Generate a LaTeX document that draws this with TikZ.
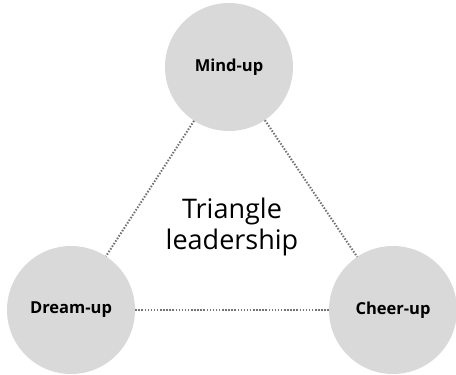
\documentclass[tikz,border=0pt]{standalone}
\usepackage{fontspec}
\setmainfont{Open Sans}
\usepackage{tikz}
\usetikzlibrary{positioning}
\tikzset{>=latex}

\begin{document}
\begin{tikzpicture}[x=1pt, y=-1pt]
    % page frame
    \useasboundingbox (0,0) rectangle (456,375);

    \tikzset{
        bubble/.style={circle, fill=black!15, minimum size=128pt, inner sep=0pt,
                       font=\bfseries\fontsize{16.5}{19}\selectfont},
        link/.style={black!55, line width=2pt, dash pattern=on 1.5pt off 1.6pt}
    }

    % 1. The three circles
    \node[bubble] (mind)  at (229,67)  {Mind-up};
    \node[bubble] (dream) at (71,310)  {Dream-up};
    \node[bubble] (cheer) at (393,310) {Cheer-up};

    % 2. Dotted sides of the triangle
    \draw[link] (mind) -- (dream);
    \draw[link] (mind) -- (cheer);
    \draw[link] (dream) -- (cheer);

    % 3. Title in the middle
    \node[align=center, font=\fontsize{27}{31}\selectfont] (title) at (232,227)
        {Triangle\\leadership};
\end{tikzpicture}
\end{document}
